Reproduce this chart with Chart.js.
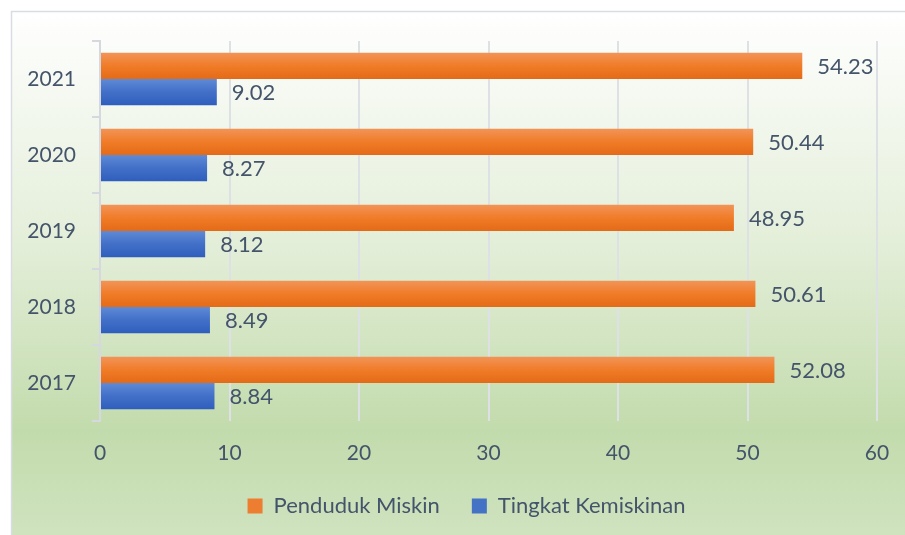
<!DOCTYPE html>
<html>
<head>
<meta charset="utf-8">
<script src="https://cdn.jsdelivr.net/npm/chart.js@4.4.0/dist/chart.umd.min.js"></script>
<style>
  html, body { margin: 0; padding: 0; background: #fff; }
  #wrap { width: 905px; height: 535px; }
</style>
</head>
<body>
<div id="wrap"><canvas id="chart"></canvas></div>
<script>
// Data
const years = ["2021", "2020", "2019", "2018", "2017"];
const pendudukMiskin = [54.23, 50.44, 48.95, 50.61, 52.08];
const tingkatKemiskinan = [9.02, 8.27, 8.12, 8.49, 8.84];
const xTicks = [0, 10, 20, 30, 40, 50, 60];

const textColor = "#44546a";
const fontFamily = "Lato, 'Liberation Sans', sans-serif";

// Frame + green gradient background
const backgroundPlugin = {
  id: "bg",
  beforeDraw(chart) {
    const { ctx, width, height } = chart;
    ctx.save();
    ctx.fillStyle = "#ffffff";
    ctx.fillRect(0, 0, width, height);
    const g = ctx.createLinearGradient(0, 11, 0, height);
    g.addColorStop(0, "#ffffff");
    g.addColorStop(0.45, "#e3eed8");
    g.addColorStop(0.8, "#c2dbac");
    g.addColorStop(1, "#cfe3bf");
    ctx.fillStyle = g;
    ctx.fillRect(11, 11, width - 11, height - 11);
    ctx.strokeStyle = "#d9dde3";
    ctx.lineWidth = 1.5;
    ctx.beginPath();
    ctx.moveTo(11.5, height);
    ctx.lineTo(11.5, 11.5);
    ctx.lineTo(width, 11.5);
    ctx.stroke();
    ctx.restore();
  }
};

// Legend sits a bit right of the canvas centre
const legendShift = {
  id: "legendShift",
  afterLayout(chart) {
    if (chart.legend) chart.legend.left = 56;
  }
};

// Vertical gradient on each bar
const barGradient = {
  id: "barGradient",
  beforeDatasetsDraw(chart) {
    const { ctx } = chart;
    const stops = [
      ["#f29458", "#f07c28", "#e46a16"],
      ["#5f8ad6", "#4270c8", "#2e5ebd"]
    ];
    chart.data.datasets.forEach((ds, di) => {
      chart.getDatasetMeta(di).data.forEach(el => {
        const top = el.y - el.height / 2;
        const g = ctx.createLinearGradient(0, top, 0, top + el.height);
        g.addColorStop(0, stops[di][0]);
        g.addColorStop(0.5, stops[di][1]);
        g.addColorStop(1, stops[di][2]);
        el.options = Object.assign({}, el.options, { backgroundColor: g });
      });
    });
  }
};

// Value labels at the end of the bars
const valueLabels = {
  id: "valueLabels",
  afterDatasetsDraw(chart) {
    const { ctx } = chart;
    ctx.save();
    ctx.font = "22px " + fontFamily;
    ctx.fillStyle = textColor;
    ctx.textAlign = "left";
    ctx.textBaseline = "middle";
    chart.data.datasets.forEach((ds, di) => {
      chart.getDatasetMeta(di).data.forEach((el, i) => {
        ctx.fillText(ds.data[i].toFixed(2), el.x + 15, el.y + 1);
      });
    });
    ctx.restore();
  }
};

new Chart(document.getElementById("chart"), {
  type: "bar",
  plugins: [backgroundPlugin, legendShift, barGradient, valueLabels],
  data: {
    labels: years,
    datasets: [
      {
        label: "Penduduk Miskin",
        data: pendudukMiskin,
        backgroundColor: "#ed7d31",
        categoryPercentage: 0.69,
        barPercentage: 1
      },
      {
        label: "Tingkat Kemiskinan",
        data: tingkatKemiskinan,
        backgroundColor: "#4472c4",
        categoryPercentage: 0.69,
        barPercentage: 1
      }
    ]
  },
  options: {
    indexAxis: "y",
    responsive: true,
    maintainAspectRatio: false,
    animation: false,
    layout: { padding: { top: 41, right: 28, left: 0, bottom: 8 } },
    plugins: {
      tooltip: { enabled: false },
      legend: {
        position: "bottom",
        labels: {
          color: textColor,
          font: { size: 22, family: fontFamily },
          boxWidth: 15,
          boxHeight: 15,
          padding: 32
        }
      }
    },
    scales: {
      x: {
        min: 0,
        max: 60,
        afterBuildTicks(scale) {
          scale.ticks = xTicks.map(v => ({ value: v }));
        },
        afterFit(scale) {
          scale.height = 42;
          scale.paddingLeft = 0;
          scale.paddingRight = 0;
        },
        border: { display: false },
        grid: { color: "#dde1e6", lineWidth: 2, drawTicks: false },
        ticks: {
          color: textColor,
          font: { size: 21, family: fontFamily },
          padding: 20
        }
      },
      y: {
        afterFit(scale) { scale.width = 100; },
        border: { display: true, color: "#d5d9df", width: 2 },
        grid: { drawOnChartArea: false, drawTicks: true, tickLength: 8, color: "#d5d9df", lineWidth: 2 },
        ticks: {
          color: textColor,
          font: { size: 21, family: fontFamily },
          padding: 16
        }
      }
    }
  }
});
</script>
</body>
</html>
